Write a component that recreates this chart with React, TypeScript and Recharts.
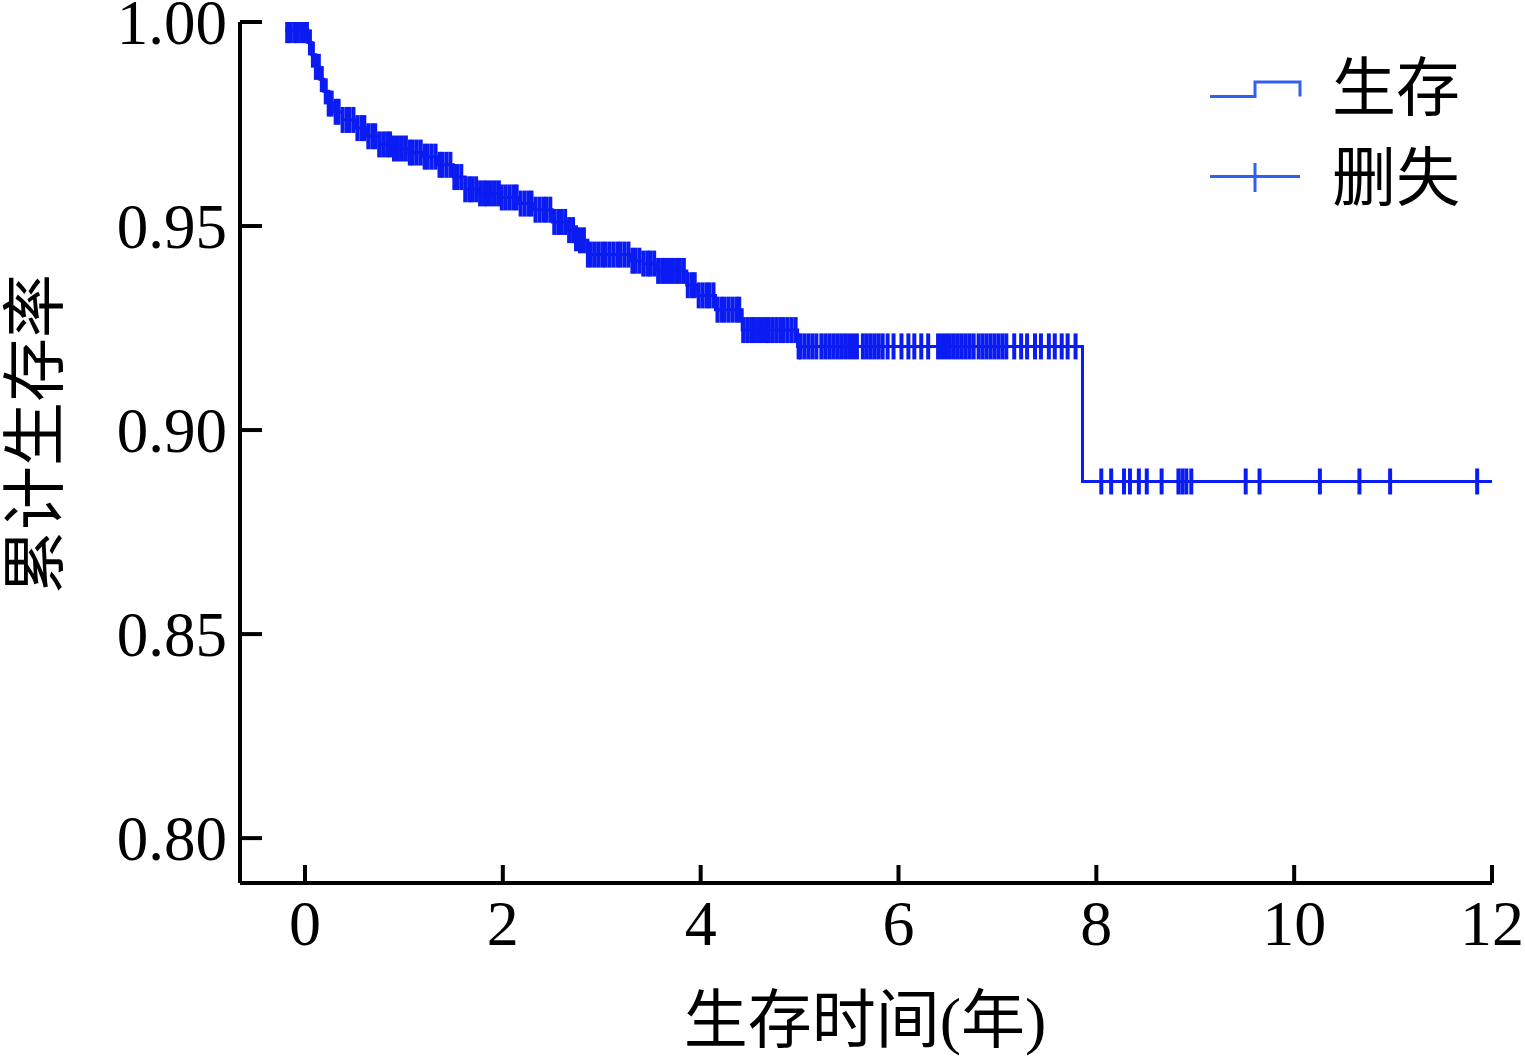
import { ComposedChart, Line, Scatter, XAxis, YAxis } from "recharts"

// Kaplan-Meier step points (time in years, cumulative survival)
const survTimes = [
    -0.2, 0.03, 0.07, 0.11, 0.15, 0.19, 0.24, 0.3, 0.38, 0.5, 0.62, 0.75, 0.9, 1.05, 1.2,
    1.35, 1.5, 1.62, 1.75, 1.98, 2.15, 2.32, 2.5, 2.65, 2.72, 2.78, 2.86, 3.3, 3.42, 3.55,
    3.86, 3.97, 4.15, 4.42, 4.98, 7.86, 12.0,
]
const survValues = [
    0.998, 0.995, 0.992, 0.989, 0.986, 0.983, 0.98, 0.978, 0.976, 0.974, 0.972, 0.97, 0.969,
    0.968, 0.967, 0.965, 0.962, 0.959, 0.958, 0.957, 0.9555, 0.954, 0.951, 0.949, 0.947,
    0.9465, 0.943, 0.9415, 0.9408, 0.939, 0.9355, 0.933, 0.9295, 0.9245, 0.9205, 0.8874,
    0.8874,
]

// censored cases (+ marks)
const censorEarly = [
    -0.18, -0.15, -0.11, -0.08, -0.04, -0.01, 0.02, 0.05, 0.08, 0.11, 0.14, 0.17, 0.21, 0.24,
    0.27, 0.31, 0.34, 0.38, 0.42, 0.45, 0.49, 0.53, 0.57, 0.6, 0.64, 0.68, 0.71, 0.75, 0.79,
    0.83, 0.86, 0.9, 0.94, 0.98,
]
const censorMid = [
    1.02, 1.06, 1.09, 1.13, 1.17, 1.21, 1.24, 1.28, 1.32, 1.36, 1.39, 1.43, 1.47, 1.51, 1.54,
    1.58, 1.62, 1.66, 1.69, 1.73, 1.77, 1.81, 1.84, 1.88, 1.92, 1.96, 1.99, 2.03, 2.07, 2.11,
    2.14, 2.18, 2.22, 2.26, 2.29, 2.33, 2.37, 2.41, 2.44, 2.48, 2.52, 2.56, 2.59, 2.63, 2.67,
    2.71, 2.74, 2.78, 2.82, 2.86, 2.89, 2.93, 2.97,
]
const censorLate = [
    3.01, 3.04, 3.08, 3.12, 3.16, 3.19, 3.23, 3.27, 3.31, 3.34, 3.38, 3.42, 3.46, 3.49, 3.53,
    3.57, 3.61, 3.64, 3.68, 3.72, 3.76, 3.79, 3.83, 3.87, 3.91, 3.94, 3.98, 4.02, 4.06, 4.09,
    4.13, 4.17, 4.21, 4.24, 4.28, 4.32, 4.36, 4.39, 4.43, 4.47, 4.51, 4.54, 4.58, 4.62, 4.66,
    4.69, 4.73, 4.77, 4.81, 4.84, 4.88, 4.92, 4.96, 4.99,
]
const censorPlateau = [
    5.01, 5.05, 5.09, 5.13, 5.17, 5.22, 5.26, 5.3, 5.34, 5.38, 5.42, 5.46, 5.5, 5.54, 5.58,
    5.64, 5.68, 5.72, 5.76, 5.8, 5.84, 5.89, 5.95, 6.03, 6.1, 6.16, 6.23, 6.3, 6.4, 6.44,
    6.48, 6.52, 6.56, 6.6, 6.64, 6.68, 6.72, 6.76, 6.81, 6.85, 6.89, 6.93, 6.97, 7.01, 7.05,
    7.09, 7.17, 7.24, 7.3, 7.38, 7.44, 7.52, 7.58, 7.65, 7.71, 7.79,
]
const censorTail = [
    8.05, 8.15, 8.28, 8.34, 8.43, 8.51, 8.66, 8.83, 8.87, 8.91, 8.96, 9.51, 9.65, 10.26,
    10.66, 10.97, 11.85,
]

const xTicks = [0, 2, 4, 6, 8, 10, 12]
const yTicks = [0.8, 0.85, 0.9, 0.95, 1.0]

const BLUE = "#0b1cf2"
const LEGEND_BLUE = "#2f60f0"
const SERIF = "'Liberation Serif', 'Times New Roman', serif"
const CJK = "'Liberation Serif', 'Noto Sans CJK SC', serif"

const survData = survTimes.map((t, i) => ({ t, s: survValues[i] }))

function survivalAt(t: number) {
    let s = survValues[0]
    for (let i = 0; i < survTimes.length; i++) {
        if (survTimes[i] <= t) s = survValues[i]
    }
    return s
}

const censorData = [
    ...censorEarly,
    ...censorMid,
    ...censorLate,
    ...censorPlateau,
    ...censorTail,
].map((t) => ({ t, s: survivalAt(t) }))

function CensorMark(props: any) {
    const { cx, cy } = props
    if (cx == null || cy == null) return null
    return <line x1={cx} x2={cx} y1={cy - 13} y2={cy + 13} stroke={BLUE} strokeWidth={4} />
}

function YTick({ x, y, payload }: any) {
    return (
        <g>
            <line x1={x} x2={x + 22} y1={y} y2={y} stroke="#000" strokeWidth={4} />
            <text
                x={x - 13}
                y={y + 1}
                textAnchor="end"
                dominantBaseline="central"
                fontFamily={SERIF}
                fontSize={63}
                fill="#000"
            >
                {Number(payload.value).toFixed(2)}
            </text>
        </g>
    )
}

function XTick({ x, y, payload }: any) {
    return (
        <g>
            <line x1={x} x2={x} y1={y} y2={y - 18} stroke="#000" strokeWidth={4} />
            <text x={x} y={y + 62} textAnchor="middle" fontFamily={SERIF} fontSize={64} fill="#000">
                {payload.value}
            </text>
        </g>
    )
}

function YTitle() {
    return (
        <text
            x={35}
            y={434}
            transform="rotate(-90 35 434)"
            textAnchor="middle"
            dominantBaseline="central"
            fontFamily={CJK}
            fontSize={64}
            fill="#000"
        >
            累计生存率
        </text>
    )
}

function XTitle() {
    return (
        <text
            x={865}
            y={1020}
            textAnchor="middle"
            dominantBaseline="central"
            fontFamily={CJK}
            fontSize={64}
            fill="#000"
        >
            生存时间(年)
        </text>
    )
}

function KmLegend() {
    return (
        <svg width={300} height={170} style={{ display: "block" }}>
            <polyline
                points="10,46.5 55,46.5 55,32 100,32 100,46.5"
                fill="none"
                stroke={LEGEND_BLUE}
                strokeWidth={3}
            />
            <text x={132} y={38} dominantBaseline="central" fontFamily={CJK} fontSize={64} fill="#000">
                生存
            </text>
            <line x1={10} x2={100} y1={126.5} y2={126.5} stroke={LEGEND_BLUE} strokeWidth={3} />
            <line x1={55} x2={55} y1={113} y2={142} stroke={LEGEND_BLUE} strokeWidth={3} />
            <text x={132} y={128} dominantBaseline="central" fontFamily={CJK} fontSize={64} fill="#000">
                删失
            </text>
        </svg>
    )
}

export default function App() {
    return (
        <div style={{ position: "absolute", left: 0, top: 0, width: 1525, height: 1057, background: "#fff" }}>
            <ComposedChart
                width={1525}
                height={1057}
                margin={{ top: 22, right: 33, bottom: 0, left: 0 }}
            >
                <XAxis
                    type="number"
                    dataKey="t"
                    domain={[-0.657, 12]}
                    ticks={xTicks}
                    allowDataOverflow
                    height={174}
                    axisLine={{ stroke: "#000", strokeWidth: 4 }}
                    tickLine={false}
                    tickSize={0}
                    tickMargin={0}
                    tick={<XTick />}
                    label={<XTitle />}
                />
                <YAxis
                    type="number"
                    domain={[0.789, 1.0]}
                    ticks={yTicks}
                    allowDataOverflow
                    width={240}
                    axisLine={{ stroke: "#000", strokeWidth: 4 }}
                    tickLine={false}
                    tickSize={0}
                    tickMargin={0}
                    tick={<YTick />}
                    label={<YTitle />}
                />
                <Line
                    data={survData}
                    dataKey="s"
                    type="stepAfter"
                    stroke={BLUE}
                    strokeWidth={3}
                    dot={false}
                    activeDot={false}
                    isAnimationActive={false}
                    legendType="none"
                />
                <Scatter
                    data={censorData}
                    dataKey="s"
                    shape={<CensorMark />}
                    isAnimationActive={false}
                    legendType="none"
                />
            </ComposedChart>
            <div style={{ position: "absolute", left: 1200, top: 50 }}>
                <KmLegend />
            </div>
        </div>
    )
}
